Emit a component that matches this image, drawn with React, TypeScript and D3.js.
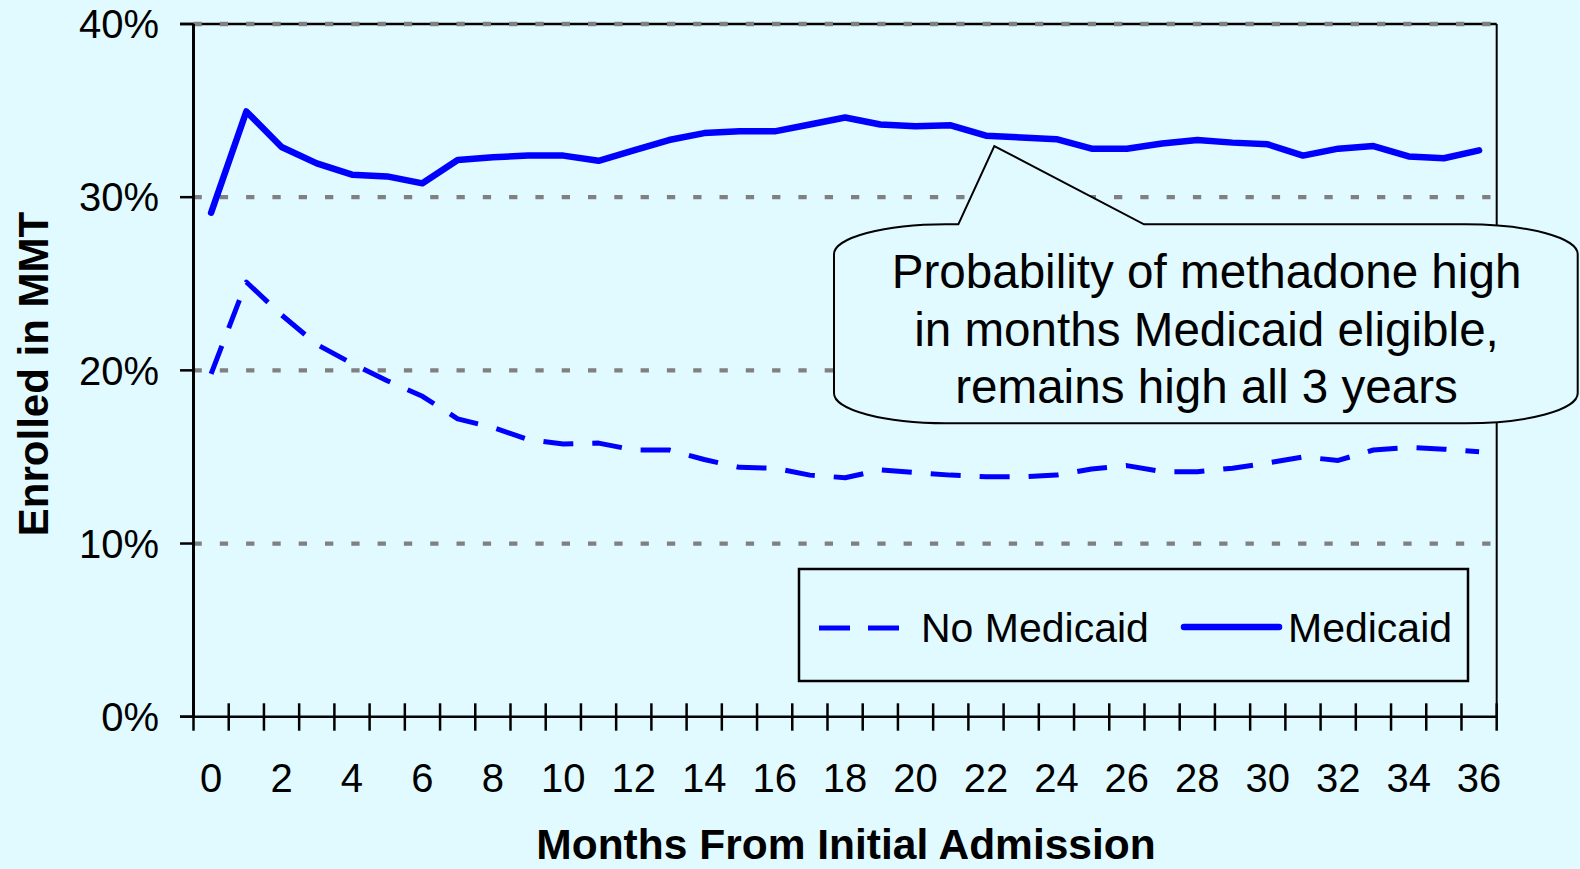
import React from "react";
import * as d3 from "d3";

const months: number[] = Array.from({ length: 37 }, (_, i) => i);
const medicaid: number[] = [29.1, 34.95, 32.9, 31.95, 31.3, 31.2, 30.8, 32.15, 32.3, 32.4, 32.4, 32.1, 32.7, 33.3, 33.7, 33.8, 33.8, 34.2, 34.6, 34.2, 34.1, 34.15, 33.55, 33.45, 33.35, 32.8, 32.8, 33.1, 33.3, 33.15, 33.05, 32.4, 32.8, 32.95, 32.35, 32.25, 32.7];
const noMedicaid: number[] = [19.8, 25.1, 23.2, 21.5, 20.4, 19.4, 18.5, 17.2, 16.7, 16.0, 15.75, 15.8, 15.4, 15.4, 14.85, 14.4, 14.35, 13.95, 13.8, 14.25, 14.1, 13.95, 13.85, 13.85, 13.95, 14.3, 14.5, 14.15, 14.15, 14.35, 14.65, 15.0, 14.8, 15.4, 15.55, 15.45, 15.3];
const yTicks: number[] = [0, 10, 20, 30, 40];
const xLabelMonths: number[] = months.filter((m) => m % 2 === 0);
const seriesNames: string[] = ["No Medicaid", "Medicaid"];
const calloutLines: string[] = [
  "Probability of methadone high",
  "in months Medicaid eligible,",
  "remains high all 3 years",
];

const W = 1580;
const H = 869;
const BG = "#E0FAFF";
const FONT = "'Liberation Sans', Arial, Helvetica, sans-serif";
const LEFT = 193.5;
const RIGHT = 1496.7;
const TOP = 24;
const BOTTOM = 716.7;

export default function App() {
  const x = d3.scaleBand<number>().domain(months).range([LEFT, RIGHT]).padding(0);
  const y = d3.scaleLinear().domain([0, 40]).range([BOTTOM, TOP]);
  const cx = (m: number) => (x(m) as number) + x.bandwidth() / 2;
  const line = d3
    .line<number>()
    .x((_, i) => cx(months[i]))
    .y((d) => y(d));
  const boundaries = d3.range(months.length + 1).map((k) => LEFT + k * x.bandwidth());

  // callout geometry
  const bx0 = 834, bx1 = 1577.7, by0 = 224.3, by1 = 423.3, rx = 112, ry = 30;
  const tip = { x: 994.3, y: 146 };
  const baseL = 958.3, baseR = 1144;
  const callout = [
    `M${baseL},${by0}`,
    `L${tip.x},${tip.y}`,
    `L${baseR},${by0}`,
    `L${bx1 - rx},${by0}`,
    `A${rx},${ry} 0 0 1 ${bx1},${by0 + ry}`,
    `L${bx1},${by1 - ry}`,
    `A${rx},${ry} 0 0 1 ${bx1 - rx},${by1}`,
    `L${bx0 + rx},${by1}`,
    `A${rx},${ry} 0 0 1 ${bx0},${by1 - ry}`,
    `L${bx0},${by0 + ry}`,
    `A${rx},${ry} 0 0 1 ${bx0 + rx},${by0}`,
    "Z",
  ].join(" ");

  return (
    <svg
      width={W}
      height={H}
      style={{ position: "absolute", left: 0, top: 0, display: "block" }}
      fontFamily={FONT}
    >
      <rect x={0} y={0} width={W} height={H} fill={BG} />
      {/* plot border */}
      <line x1={180} x2={RIGHT} y1={TOP} y2={TOP} stroke="#000" strokeWidth={2.5} />
      <line x1={RIGHT} x2={RIGHT} y1={TOP} y2={BOTTOM} stroke="#000" strokeWidth={2} />
      {/* gridlines */}
      {yTicks.filter((t) => t > 0).map((t) => (
        <line
          key={"g" + t}
          x1={LEFT}
          x2={RIGHT}
          y1={y(t)}
          y2={y(t)}
          stroke="#808080"
          strokeWidth={4.3}
          strokeDasharray="8.3 18"
        />
      ))}
      {/* series */}
      <path
        d={line(noMedicaid) || ""}
        fill="none"
        stroke="#0000FF"
        strokeWidth={5}
        strokeDasharray="30 19"
        strokeLinejoin="round"
      />
      <path
        d={line(medicaid) || ""}
        fill="none"
        stroke="#0000FF"
        strokeWidth={6.5}
        strokeLinejoin="round"
        strokeLinecap="round"
      />
      {/* axes */}
      <line x1={LEFT} x2={LEFT} y1={TOP} y2={BOTTOM} stroke="#000" strokeWidth={3} />
      <line x1={180} x2={RIGHT} y1={BOTTOM} y2={BOTTOM} stroke="#000" strokeWidth={2.5} />
      {yTicks.map((t) => (
        <g key={"yt" + t}>
          <line x1={180} x2={LEFT} y1={y(t)} y2={y(t)} stroke="#000" strokeWidth={2.5} />
          <text x={159} y={y(t) + 14.3} textAnchor="end" fontSize={40} fill="#000">
            {t}%
          </text>
        </g>
      ))}
      {boundaries.map((bx, i) => (
        <line key={"xt" + i} x1={bx} x2={bx} y1={703.3} y2={730.7} stroke="#000" strokeWidth={2.5} />
      ))}
      {xLabelMonths.map((m) => (
        <text key={"xl" + m} x={cx(m)} y={791.7} textAnchor="middle" fontSize={40} fill="#000">
          {m}
        </text>
      ))}
      {/* axis titles */}
      <text
        transform={`translate(48,374) rotate(-90)`}
        textAnchor="middle"
        fontSize={42}
        fontWeight="bold"
        fill="#000"
      >
        Enrolled in MMT
      </text>
      <text x={846} y={859} textAnchor="middle" fontSize={42.5} fontWeight="bold" fill="#000">
        Months From Initial Admission
      </text>
      {/* callout */}
      <path d={callout} fill={BG} stroke="#000" strokeWidth={2} strokeLinejoin="miter" />
      {calloutLines.map((s, i) => (
        <text key={"c" + i} x={1206.5} y={288.3 + i * 57.5} textAnchor="middle" fontSize={47.6} fill="#000">
          {s}
        </text>
      ))}
      {/* legend */}
      <rect x={799} y={569} width={669} height={112} fill={BG} stroke="#000" strokeWidth={2.5} />
      <line x1={819} x2={900} y1={628} y2={628} stroke="#0000FF" strokeWidth={5} strokeDasharray="31 18" />
      <text x={921} y={642} fontSize={41} fill="#000">
        {seriesNames[0]}
      </text>
      <line x1={1184} x2={1279} y1={627} y2={627} stroke="#0000FF" strokeWidth={6.5} strokeLinecap="round" />
      <text x={1288} y={642} fontSize={41} fill="#000">
        {seriesNames[1]}
      </text>
    </svg>
  );
}
